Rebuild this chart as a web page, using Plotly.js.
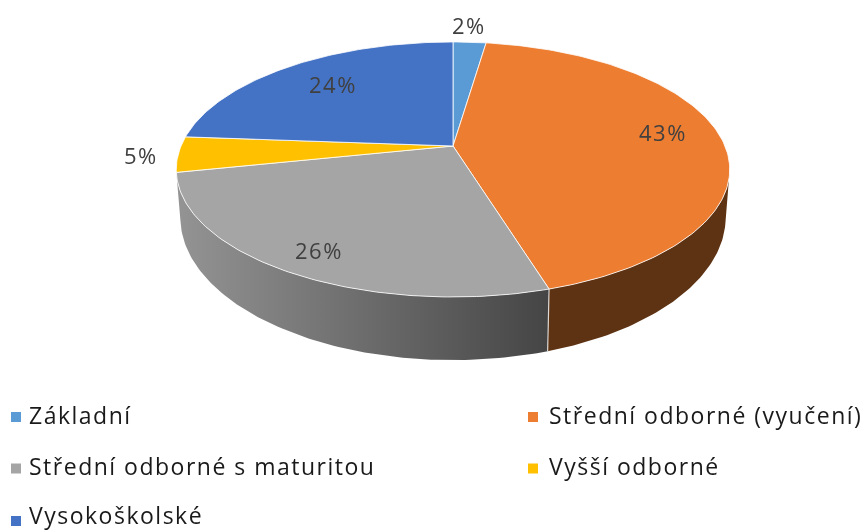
<!DOCTYPE html>
<html><head><meta charset="utf-8">
<script src="https://cdn.plot.ly/plotly-3.0.1.min.js"></script>
<style>html,body{margin:0;padding:0;background:#fff}#c{width:864px;height:531px;filter:blur(0.6px)}
.annotation-text{letter-spacing:1.5px}</style>
</head><body><div id="c"></div>
<script>
const categories = ["Základní","Střední odborné (vyučení)","Střední odborné s maturitou","Vyšší odborné","Vysokoškolské"];
const values = [2.3,43,26.4,4.5,23.8];
const percentLabels = ["2%","43%","26%","5%","24%"];
const colors = ["#5B9BD5","#ED7D31","#A5A5A5","#FFC000","#4472C4"];
const labelRadius = [1.18,0.78,0.85,1.135,0.73];
const labelShiftX = [-3,1,2,0,3];
const labelShiftY = [2,7,0,0,2];
const legendRows = [0,0,1,1,2];
const legendCols = [0,1,0,1,0];

// perspective projection of the pie disc onto the pixel-scaled axes
const K = 0.184;
const top_ = {cx:453, cy:146, a:123.2, b:272};
const low_ = {cx:453, cy:191, a:138, b:268};
function proj(d, deg, r){
  const t = deg*Math.PI/180, X = r*Math.sin(t), Y = r*Math.cos(t), s = 1+K*Y;
  return [d.cx + d.b*X/s, d.cy - d.a*Y/s];
}
function arc(d, a0, a1){
  const n = Math.max(2, Math.ceil(Math.abs(a1-a0))), p = [];
  for(let i=0;i<=n;i++) p.push(proj(d, a0+(a1-a0)*i/n, 1));
  return p;
}
const total = values.reduce((a,b)=>a+b,0);
let cum = 0;
const spans = values.map(v=>{const a0=cum/total*360; cum+=v; return [a0,cum/total*360];});
const traces = [];
const edge = {color:"rgba(255,255,255,0.8)",width:1};

// side walls: grey front, orange right
const silhouette = 100.6;
function wall(a0,a1,extra){
  const p = arc(top_,a0,a1).concat(arc(low_,a1,a0));
  p.push(p[0]);
  traces.push(Object.assign({type:"scatter",mode:"lines",x:p.map(q=>q[0]),y:p.map(q=>q[1]),fill:"toself",
    line:{color:"rgba(255,255,255,0)",width:0},hoverinfo:"skip",showlegend:false},extra));
}
wall(spans[2][0],spans[2][1],{fillgradient:{type:"horizontal",colorscale:[[0,"#949494"],[1,"#454545"]]},fillcolor:"#777"});
wall(silhouette,spans[1][1],{fillcolor:"#5E3313"});
// seam between the two walls
const s0=proj(top_,spans[1][1],1), s1=proj(low_,spans[1][1],1);
traces.push({type:"scatter",mode:"lines",x:[s0[0],s1[0]],y:[s0[1],s1[1]],line:{color:"rgba(255,255,255,0.75)",width:1.2},hoverinfo:"skip",showlegend:false});

// top faces
spans.forEach((sp,i)=>{
  const p=[[top_.cx,top_.cy]].concat(arc(top_,sp[0],sp[1]));
  p.push(p[0]);
  traces.push({type:"scatter",mode:"lines",name:categories[i],x:p.map(q=>q[0]),y:p.map(q=>q[1]),fill:"toself",
    fillcolor:colors[i],line:edge,hoverinfo:"name",showlegend:false});
});

const annotations=[];
// percent labels
spans.forEach((sp,i)=>{
  const q=proj(top_,(sp[0]+sp[1])/2,labelRadius[i]);
  annotations.push({x:q[0],y:q[1],xshift:labelShiftX[i],yshift:labelShiftY[i],xref:"x",yref:"y",text:percentLabels[i],showarrow:false,xanchor:"center",yanchor:"middle",
    font:{family:"Open Sans",size:22,color:"#404040"}});
});
// legend
const colMarker=[16,533], colText=[27,547], rowY=[415,466,515], markerY=[417,468.5,521];
const mx=[],my=[];
categories.forEach((c,i)=>{
  mx.push(colMarker[legendCols[i]]); my.push(markerY[legendRows[i]]);
  annotations.push({x:colText[legendCols[i]],y:rowY[legendRows[i]],xref:"x",yref:"y",text:c,showarrow:false,xanchor:"left",yanchor:"middle",
    font:{family:"Open Sans",size:23,color:"#1a1a1a"}});
});
traces.push({type:"scatter",mode:"markers",x:mx,y:my,marker:{symbol:"square",size:10,color:colors},hoverinfo:"skip",showlegend:false});

const axis={visible:false,fixedrange:true};
Plotly.newPlot("c",traces,{
  width:864,height:531,margin:{l:0,r:0,t:0,b:0},paper_bgcolor:"#fff",plot_bgcolor:"#fff",showlegend:false,
  xaxis:Object.assign({range:[0,864]},axis),yaxis:Object.assign({range:[531,0]},axis),annotations
},{displayModeBar:false,staticPlot:true});
</script></body></html>
